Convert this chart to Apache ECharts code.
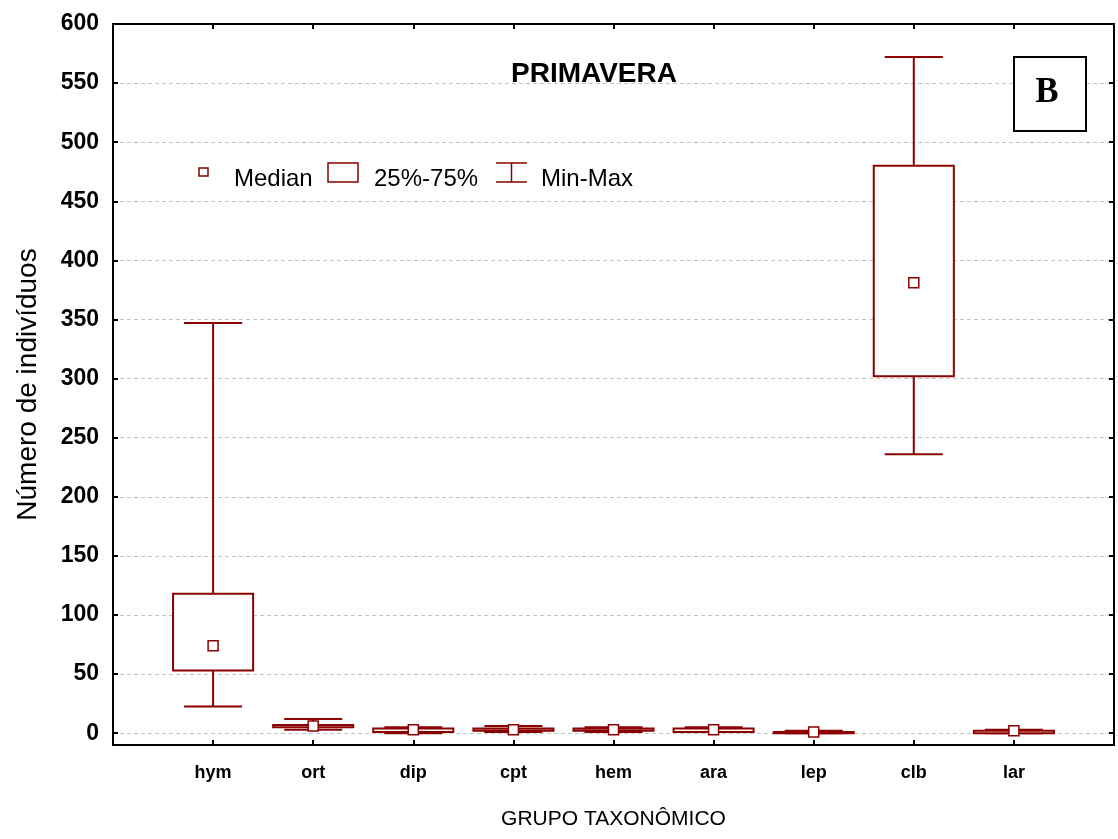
<!DOCTYPE html>
<html>
<head>
<meta charset="utf-8">
<script src="https://cdn.jsdelivr.net/npm/echarts@6/dist/echarts.min.js"></script>
<style>
  html, body { margin: 0; padding: 0; background: #fff; }
  #chart { width: 1118px; height: 839px; }
</style>
</head>
<body>
<div id="chart"></div>
<script>
// Taxonomic groups along the x axis
const categories = ['hym', 'ort', 'dip', 'cpt', 'hem', 'ara', 'lep', 'clb', 'lar'];
// Summary statistics per group (number of individuals)
const minValues    = [22.5, 3,   0, 1, 1, 1, 0, 236, 0];
const q1Values     = [53,   5,   1, 2, 2, 1, 0, 302, 0];
const medianValues = [74,   6,   3, 3, 3, 3, 1, 381, 2];
const q3Values     = [118,  7,   4, 4, 4, 4, 1, 480, 2];
const maxValues    = [347,  12,  5, 6, 5, 5, 2, 572, 3];
// Tick values on the y axis
const yTicks = [0, 50, 100, 150, 200, 250, 300, 350, 400, 450, 500, 550, 600];

const RED = '#8B0000';
const FONT = '"Liberation Sans", Arial, sans-serif';

const boxData = categories.map((c, i) => [i + 1, minValues[i], q1Values[i], medianValues[i], q3Values[i], maxValues[i]]);
const medianData = categories.map((c, i) => [i + 1, medianValues[i]]);

function renderBox(params, api) {
  const x = api.value(0);
  const pMin = api.coord([x, api.value(1)]);
  const pQ1 = api.coord([x, api.value(2)]);
  const pQ3 = api.coord([x, api.value(4)]);
  const pMax = api.coord([x, api.value(5)]);
  const boxW = api.size([0.8, 0])[0];
  const capW = api.size([0.58, 0])[0];
  const lineStyle = { stroke: RED, lineWidth: 2, fill: null };
  return {
    type: 'group',
    children: [
      { type: 'line', shape: { x1: pMin[0], y1: pMin[1], x2: pMax[0], y2: pMax[1] }, style: lineStyle },
      { type: 'line', shape: { x1: pMin[0] - capW / 2, y1: pMin[1], x2: pMin[0] + capW / 2, y2: pMin[1] }, style: lineStyle },
      { type: 'line', shape: { x1: pMax[0] - capW / 2, y1: pMax[1], x2: pMax[0] + capW / 2, y2: pMax[1] }, style: lineStyle },
      { type: 'rect', shape: { x: pQ3[0] - boxW / 2, y: pQ3[1], width: boxW, height: pQ1[1] - pQ3[1] },
        style: { stroke: RED, lineWidth: 2, fill: '#fff' } }
    ]
  };
}

const axisLineStyle = { color: '#000', width: 2 };
const tickStyle = { color: '#000', width: 2 };

const option = {
  animation: false,
  backgroundColor: '#fff',
  grid: { left: 113, right: 4, top: 24, bottom: 94, containLabel: false },
  xAxis: [
    {
      type: 'value', min: 0, max: 10, interval: 1, position: 'bottom',
      name: 'GRUPO TAXONÔMICO', nameLocation: 'middle', nameGap: 64,
      nameTextStyle: { fontFamily: FONT, fontSize: 21, color: '#000' },
      axisLine: { show: true, onZero: false, lineStyle: axisLineStyle },
      axisTick: { show: true, inside: true, length: 5, lineStyle: tickStyle },
      axisLabel: {
        margin: 19, fontFamily: FONT, fontSize: 18, fontWeight: 'bold', color: '#000',
        formatter: v => (v >= 1 && v <= categories.length) ? categories[v - 1] : ''
      },
      splitLine: { show: false }
    },
    {
      type: 'value', min: 0, max: 10, interval: 1, position: 'top',
      axisLine: { show: true, onZero: false, lineStyle: axisLineStyle },
      axisTick: { show: true, inside: true, length: 5, lineStyle: tickStyle },
      axisLabel: { show: false },
      splitLine: { show: false }
    }
  ],
  yAxis: [
    {
      type: 'value', min: -10, max: 600, position: 'left',
      name: 'Número de indivíduos', nameLocation: 'middle', nameGap: 71,
      nameTextStyle: { fontFamily: FONT, fontSize: 28, color: '#000' },
      axisLine: { show: true, onZero: false, lineStyle: axisLineStyle },
      axisTick: { show: true, inside: true, length: 5, customValues: yTicks, lineStyle: tickStyle },
      axisLabel: { margin: 14, fontFamily: FONT, fontSize: 23, fontWeight: 'bold', color: '#000', customValues: yTicks },
      splitLine: { show: true, lineStyle: { color: '#c4c4c4', type: [4, 3], width: 1 } }
    },
    {
      type: 'value', min: -10, max: 600, position: 'right',
      axisLine: { show: true, onZero: false, lineStyle: axisLineStyle },
      axisTick: { show: true, inside: true, length: 5, customValues: yTicks, lineStyle: tickStyle },
      axisLabel: { show: false },
      splitLine: { show: false }
    }
  ],
  series: [
    {
      type: 'custom', name: 'box', xAxisIndex: 0, yAxisIndex: 0,
      renderItem: renderBox, data: boxData,
      encode: { x: 0, y: [1, 2, 3, 4, 5] }, z: 2
    },
    {
      type: 'scatter', name: 'Median', xAxisIndex: 0, yAxisIndex: 0,
      data: medianData, symbol: 'rect', symbolSize: 10,
      itemStyle: { color: '#fff', borderColor: RED, borderWidth: 1.5, opacity: 1 }, z: 3
    }
  ],
  graphic: [
    { type: 'text', x: 594, y: 74, z: 10,
      style: { text: 'PRIMAVERA', fill: '#000', font: 'bold 28px ' + FONT, align: 'center', verticalAlign: 'middle' } },
    // panel letter
    { type: 'rect', shape: { x: 1014, y: 57, width: 72, height: 74 }, z: 10,
      style: { fill: '#fff', stroke: '#000', lineWidth: 2 } },
    { type: 'text', x: 1047, y: 93, z: 11,
      style: { text: 'B', fill: '#000', font: 'bold 35px "Liberation Serif", "Times New Roman", serif', align: 'center', verticalAlign: 'middle' } },
    // legend
    { type: 'rect', shape: { x: 199, y: 168, width: 9, height: 8 }, z: 10,
      style: { fill: '#fff', stroke: RED, lineWidth: 1.5 } },
    { type: 'text', x: 234, y: 179, z: 10,
      style: { text: 'Median', fill: '#000', font: '24px ' + FONT, verticalAlign: 'middle' } },
    { type: 'rect', shape: { x: 328, y: 163, width: 30, height: 19 }, z: 10,
      style: { fill: '#fff', stroke: RED, lineWidth: 1.5 } },
    { type: 'text', x: 374, y: 179, z: 10,
      style: { text: '25%-75%', fill: '#000', font: '24px ' + FONT, verticalAlign: 'middle' } },
    { type: 'polyline', shape: { points: [[496, 163], [527, 163]] }, z: 10, style: { stroke: RED, lineWidth: 1.5 } },
    { type: 'polyline', shape: { points: [[511.5, 163], [511.5, 182]] }, z: 10, style: { stroke: RED, lineWidth: 1.5 } },
    { type: 'polyline', shape: { points: [[496, 182], [527, 182]] }, z: 10, style: { stroke: RED, lineWidth: 1.5 } },
    { type: 'text', x: 541, y: 179, z: 10,
      style: { text: 'Min-Max', fill: '#000', font: '24px ' + FONT, verticalAlign: 'middle' } }
  ]
};

const chart = echarts.init(document.getElementById('chart'), null, { renderer: 'canvas' });
chart.setOption(option);
</script>
</body>
</html>
